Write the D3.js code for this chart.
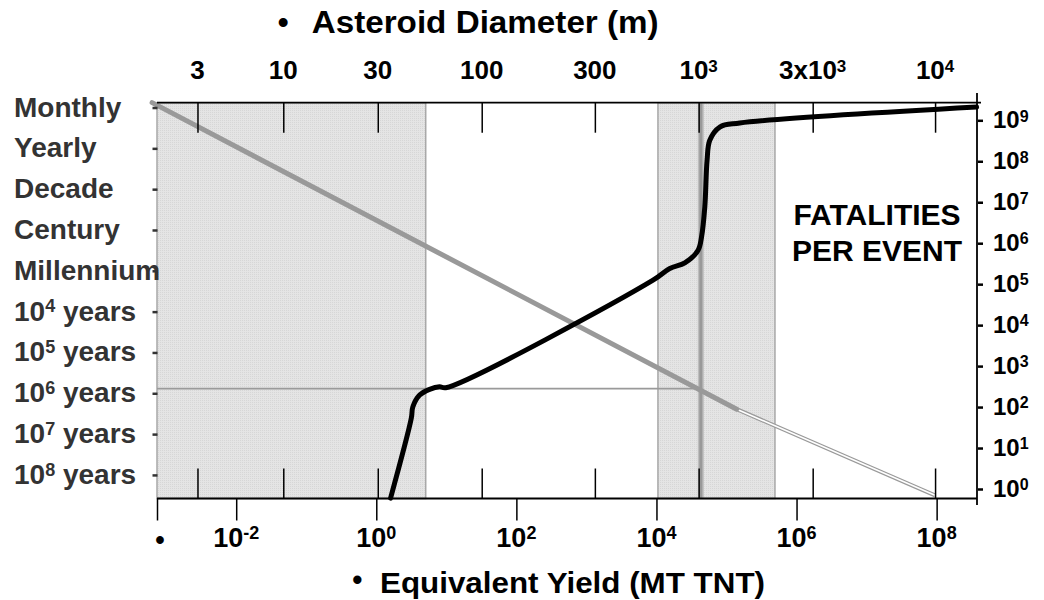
<!DOCTYPE html>
<html>
<head>
<meta charset="utf-8">
<script src="https://cdn.jsdelivr.net/npm/d3@7"></script>
<style>
  body { margin: 0; background: #fff; }
  svg text { font-family: "Liberation Sans", Arial, sans-serif; font-weight: bold; white-space: pre; }
</style>
</head>
<body>
<div id="chart"></div>
<script>
// bottom axis: equivalent yield (MT TNT)
const yieldTicks = [1e-2, 1, 1e2, 1e4, 1e6, 1e8];
const yieldLabels = ["10^{-2}", "10^{0}", "10^{2}", "10^{4}", "10^{6}", "10^{8}"];

// top axis: asteroid diameter (m), placed at the yield it corresponds to
const diameterLabels = ["3", "10", "30", "100", "300", "10^{3}", "3x10^{3}", "10^{4}"];
const diameterYield = [0.0028, 0.047, 1.05, 32, 1320, 40000, 1.7e6, 9.5e7];

// left axis: recurrence interval
const recurrenceLabels = ["Monthly", "Yearly", "Decade", "Century", "Millennium",
  "10^{4} years", "10^{5} years", "10^{6} years", "10^{7} years", "10^{8} years"];
const recurrenceYears = [0.1, 1, 10, 100, 1e3, 1e4, 1e5, 1e6, 1e7, 1e8];

// right axis: fatalities per event
const fatalityTicks = [1, 10, 100, 1e3, 1e4, 1e5, 1e6, 1e7, 1e8, 1e9];
const fatalityLabels = ["10^{0}", "10^{1}", "10^{2}", "10^{3}", "10^{4}", "10^{5}",
  "10^{6}", "10^{7}", "10^{8}", "10^{9}"];

// fatalities curve (black)
const fatalYield = [1.6, 3.16, 3.33, 4.16, 5.77, 8.0, 9.8, 8930, 15500, 25400, 39300,
  44000, 49000, 52800, 57700, 80200, 155000, 3.72e8];
const fatalCount = [0.6, 53, 102, 196, 271, 313, 296, 125000, 241000, 330000, 675000,
  1.42e6, 7.68e6, 1.06e8, 3.26e8, 6.86e8, 8.6e8, 2.11e9];

// impact frequency (grey), solid part then extrapolated part
const freqYield = [0.00063, 140000];
const freqYears = [0.076, 2.45e6];
const extYield = [140000, 9.46e7];
const extYears = [2.45e6, 3.16e8];

// shaded ranges and the 1 km marker
const bandFrom = [0.00074, 10500];
const bandTo = [5.08, 492000];
const markerYield = 43000;
const markerYears = 7.7e5;

const w = 1044, h = 600;
const plotL = 157, plotR = 977, plotT = 102.7, plotB = 498.5;

const svg = d3.select("#chart").append("svg")
  .attr("width", w).attr("height", h);

const defs = svg.append("defs");
const pat = defs.append("pattern").attr("id", "dots")
  .attr("width", 2).attr("height", 2).attr("patternUnits", "userSpaceOnUse");
pat.append("rect").attr("width", 2).attr("height", 2).attr("fill", "#e4e4e4");
pat.append("rect").attr("width", 1).attr("height", 1).attr("fill", "#d6d6d6");

const x = d3.scaleLog().domain([0.00074, 3.77e8]).range([plotL, plotR]);
const yL = d3.scaleLog().domain([0.0762, 3.78e8]).range([plotT, plotB]);
const yR = d3.scaleLog().domain([2.69e9, 0.586]).range([plotT, plotB]);

// text with a superscript written as ^{..}
function rich(t, str, size, supSize) {
  const m = str.match(/^(.*?)\^\{(.*?)\}(.*)$/);
  t.attr("font-size", size);
  if (!m) { t.text(str); return; }
  const rise = 0.716 * (size - supSize) + 1;
  t.append("tspan").text(m[1]);
  t.append("tspan").attr("font-size", supSize).attr("dy", -rise).text(m[2]);
  if (m[3]) t.append("tspan").attr("dy", rise).text(m[3]);
}

// shaded bands
svg.selectAll("rect.band")
  .data(bandFrom)
  .enter()
  .append("rect")
  .attr("class", "band")
  .attr("x", d => x(d))
  .attr("y", plotT)
  .attr("width", (d, i) => x(bandTo[i]) - x(d))
  .attr("height", plotB - plotT)
  .attr("fill", "url(#dots)")
  .attr("stroke", "#a8a8a8")
  .attr("stroke-width", 1.5);

// 1 km marker lines
svg.append("line")
  .attr("x1", plotL).attr("x2", x(markerYield))
  .attr("y1", yL(markerYears)).attr("y2", yL(markerYears))
  .attr("stroke", "#9a9a9a").attr("stroke-width", 1.8);
svg.append("line")
  .attr("x1", x(markerYield)).attr("x2", x(markerYield))
  .attr("y1", plotT).attr("y2", plotB)
  .attr("stroke", "#bdbdbd").attr("stroke-width", 6);
svg.append("line")
  .attr("x1", x(markerYield)).attr("x2", x(markerYield))
  .attr("y1", plotT).attr("y2", plotB)
  .attr("stroke", "#999").attr("stroke-width", 3);

// impact frequency
const lineL = d3.line().x(d => x(d[0])).y(d => yL(d[1]));
const ext = d3.zip(extYield, extYears);
svg.append("path").attr("d", lineL(ext))
  .attr("fill", "none").attr("stroke", "#9a9a9a").attr("stroke-width", 4);
svg.append("path").attr("d", lineL(ext))
  .attr("fill", "none").attr("stroke", "#fff").attr("stroke-width", 1.6);
svg.append("path").attr("d", lineL(d3.zip(freqYield, freqYears)))
  .attr("fill", "none").attr("stroke", "#999").attr("stroke-width", 5)
  .attr("stroke-linecap", "round");

// axes
const axisG = svg.append("g");
axisG.append("g").attr("transform", "translate(0," + plotT + ")")
  .call(d3.axisBottom(x).tickValues(diameterYield).tickSize(30).tickFormat(""));
axisG.append("g").attr("transform", "translate(0," + plotB + ")")
  .call(d3.axisTop(x).tickValues(diameterYield).tickSize(30).tickFormat(""));
axisG.append("g").attr("transform", "translate(0," + plotB + ")")
  .call(d3.axisBottom(x).tickValues([x.domain()[0]].concat(yieldTicks)).tickSize(22).tickFormat(""));
axisG.append("g").attr("transform", "translate(157.5,0)")
  .call(d3.axisLeft(yL).tickValues(recurrenceYears).tickSize(5).tickFormat(""))
  .selectAll(".tick line").attr("stroke", "#333").attr("stroke-width", 2.5);
axisG.append("g").attr("transform", "translate(978,0)")
  .call(d3.axisRight(yR).tickValues(fatalityTicks).tickSize(5).tickFormat(""))
  .selectAll(".tick line").attr("stroke-width", 2.5);
axisG.selectAll(".domain").remove();
axisG.selectAll(".tick line").filter(function() { return !this.getAttribute("stroke-width"); })
  .attr("stroke", "#000").attr("stroke-width", 1.5);

svg.append("line").attr("x1", plotL).attr("x2", plotR + 4)
  .attr("y1", plotT).attr("y2", plotT).attr("stroke", "#000").attr("stroke-width", 1.8);
svg.append("line").attr("x1", plotL).attr("x2", plotR)
  .attr("y1", plotB).attr("y2", plotB).attr("stroke", "#000").attr("stroke-width", 1.8);
svg.append("line").attr("x1", plotR).attr("x2", plotR)
  .attr("y1", 93).attr("y2", 505).attr("stroke", "#000").attr("stroke-width", 1.8);

// fatalities curve
svg.append("path")
  .attr("d", d3.line().x(d => x(d[0])).y(d => yR(d[1]))
    .curve(d3.curveCatmullRom.alpha(0.5))(d3.zip(fatalYield, fatalCount)))
  .attr("fill", "none").attr("stroke", "#000").attr("stroke-width", 5)
  .attr("stroke-linecap", "round").attr("stroke-linejoin", "round");

// tick labels
diameterLabels.forEach((lab, i) => {
  const t = svg.append("text").attr("x", x(diameterYield[i])).attr("y", 79)
    .attr("text-anchor", "middle").attr("fill", "#000");
  rich(t, lab, 26, 17);
});
yieldLabels.forEach((lab, i) => {
  const t = svg.append("text").attr("x", x(yieldTicks[i])).attr("y", 546.7)
    .attr("text-anchor", "middle").attr("fill", "#000");
  rich(t, lab, 27, 18);
});
svg.append("text").attr("x", x(x.domain()[0]) + 3).attr("y", 549)
  .attr("text-anchor", "middle").attr("font-size", 27).text("•");
recurrenceLabels.forEach((lab, i) => {
  const t = svg.append("text").attr("x", 14).attr("y", yL(recurrenceYears[i]) + 9)
    .attr("fill", "#333");
  rich(t, lab, 28, 18);
});
fatalityLabels.forEach((lab, i) => {
  const t = svg.append("text").attr("x", 993).attr("y", yR(fatalityTicks[i]) + 8)
    .attr("fill", "#000");
  rich(t, lab, 24, 16);
});

// titles
svg.append("text").attr("x", 283.3).attr("y", 33.3).attr("text-anchor", "middle")
  .attr("font-size", 31).text("•");
svg.append("text").attr("x", 311.7).attr("y", 33.3).attr("font-size", 31)
  .attr("textLength", 347).attr("lengthAdjust", "spacingAndGlyphs")
  .text("Asteroid Diameter (m)");
svg.append("text").attr("x", 357.3).attr("y", 590).attr("text-anchor", "middle")
  .attr("font-size", 29).text("•");
svg.append("text").attr("x", 380).attr("y", 592.7).attr("font-size", 29)
  .attr("textLength", 385).attr("lengthAdjust", "spacingAndGlyphs")
  .text("Equivalent Yield (MT TNT)");
svg.append("text").attr("x", 877).attr("y", 225).attr("text-anchor", "middle")
  .attr("font-size", 30).text("FATALITIES");
svg.append("text").attr("x", 877).attr("y", 261).attr("text-anchor", "middle")
  .attr("font-size", 30).text("PER EVENT");
</script>
</body>
</html>
